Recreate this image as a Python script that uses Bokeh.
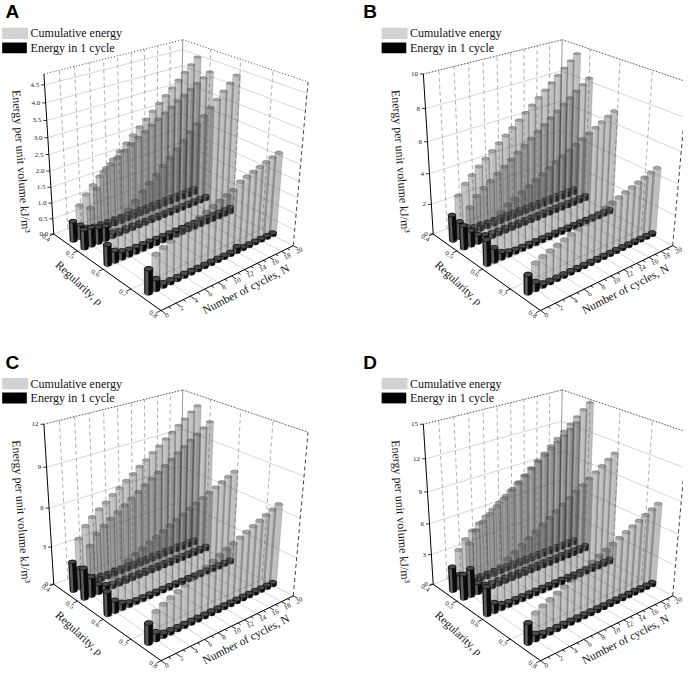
import numpy as np
from bokeh.plotting import figure
from bokeh.models import Range1d, ColumnDataSource
from bokeh.embed import file_html
from bokeh.resources import INLINE
from bokeh.core.properties import value

# ---------------- data ----------------
CYCLES = [1, 2, 3, 4, 5, 6, 7, 8, 9, 10, 11, 12, 13, 14, 15, 16, 17, 18, 19, 20]
RHO_ROWS = [0.455, 0.50, 0.59, 0.735]
RHO_TICKS = [0.4, 0.5, 0.6, 0.7, 0.8]
RHO_LABELS = ["0.4", "0.5", "0.6", "0.7", "0.8"]
N_TICKS = [0, 2, 4, 6, 8, 10, 12, 14, 16, 18, 20]
N_LABELS = ["0", "2", "4", "6", "8", "10", "12", "14", "16", "18", "20"]
RHO_MIN, RHO_MAX = 0.4, 0.8
N_MIN, N_MAX = 0, 20

A_Z_MAX = 4.8
A_Z_TICKS = [0.0, 0.5, 1.0, 1.5, 2.0, 2.5, 3.0, 3.5, 4.0, 4.5]
A_Z_LABELS = ["0.0", "0.5", "1.0", "1.5", "2.0", "2.5", "3.0", "3.5", "4.0", "4.5"]
A_CYC_R1 = [0.62, 0.42, 0.26, 0.21, 0.20, 0.19, 0.19, 0.18, 0.18, 0.18, 0.18, 0.18, 0.18, 0.18, 0.18, 0.18, 0.18, 0.18, 0.18, 0.18]
A_CUM_R1 = [0.62, 1.04, 1.30, 1.51, 1.71, 1.90, 2.09, 2.27, 2.45, 2.63, 2.81, 2.99, 3.17, 3.35, 3.53, 3.71, 3.89, 4.07, 4.25, 4.43]
A_CYC_R2 = [0.60, 0.58, 0.50, 0.45, 0.16, 0.13, 0.13, 0.13, 0.12, 0.12, 0.12, 0.12, 0.12, 0.12, 0.12, 0.12, 0.12, 0.12, 0.12, 0.12]
A_CUM_R2 = [0.60, 1.18, 1.68, 2.13, 2.29, 2.42, 2.55, 2.68, 2.80, 2.92, 3.04, 3.16, 3.28, 3.40, 3.52, 3.64, 3.76, 3.88, 4.00, 4.12]
A_CYC_R3 = [0.62, 0.35, 0.24, 0.20, 0.19, 0.19, 0.18, 0.18, 0.18, 0.18, 0.18, 0.18, 0.18, 0.18, 0.18, 0.18, 0.18, 0.18, 0.18, 0.18]
A_CUM_R3 = [0.62, 0.97, 1.21, 1.41, 1.60, 1.79, 1.97, 2.15, 2.33, 2.51, 2.69, 2.87, 3.05, 3.23, 3.41, 3.59, 3.77, 3.95, 4.13, 4.31]
A_CYC_R4 = [0.72, 0.33, 0.10, 0.09, 0.09, 0.09, 0.08, 0.08, 0.08, 0.08, 0.08, 0.08, 0.08, 0.17, 0.07, 0.07, 0.07, 0.07, 0.07, 0.07]
A_CUM_R4 = [0.72, 1.05, 1.15, 1.24, 1.33, 1.42, 1.50, 1.58, 1.66, 1.74, 1.82, 1.90, 1.98, 2.15, 2.22, 2.29, 2.36, 2.43, 2.50, 2.57]

B_Z_MAX = 10.0
B_Z_TICKS = [0, 2, 4, 6, 8, 10]
B_Z_LABELS = ["0", "2", "4", "6", "8", "10"]
B_CYC_R1 = [1.70, 1.10, 0.60, 0.40, 0.40, 0.35, 0.35, 0.35, 0.35, 0.35, 0.35, 0.35, 0.35, 0.35, 0.35, 0.35, 0.35, 0.35, 0.35, 0.35]
B_CUM_R1 = [1.70, 2.80, 3.40, 3.80, 4.20, 4.55, 4.90, 5.25, 5.60, 5.95, 6.30, 6.65, 7.00, 7.35, 7.70, 8.05, 8.40, 8.75, 9.10, 9.45]
B_CYC_R2 = [1.50, 1.00, 0.55, 0.35, 0.30, 0.30, 0.30, 0.30, 0.30, 0.30, 0.30, 0.30, 0.30, 0.30, 0.30, 0.30, 0.30, 0.30, 0.30, 0.30]
B_CUM_R2 = [1.50, 2.50, 3.05, 3.40, 3.70, 4.00, 4.30, 4.60, 4.90, 5.20, 5.50, 5.80, 6.10, 6.40, 6.70, 7.00, 7.30, 7.60, 7.90, 8.20]
B_CYC_R3 = [1.60, 0.90, 0.45, 0.30, 0.22, 0.22, 0.22, 0.22, 0.22, 0.22, 0.22, 0.22, 0.22, 0.22, 0.22, 0.22, 0.22, 0.22, 0.22, 0.22]
B_CUM_R3 = [1.60, 2.50, 2.95, 3.25, 3.47, 3.69, 3.91, 4.13, 4.35, 4.57, 4.79, 5.01, 5.23, 5.45, 5.67, 5.89, 6.11, 6.33, 6.55, 6.77]
B_CYC_R4 = [1.15, 0.50, 0.20, 0.15, 0.15, 0.15, 0.15, 0.15, 0.15, 0.15, 0.15, 0.15, 0.15, 0.15, 0.15, 0.15, 0.15, 0.15, 0.15, 0.15]
B_CUM_R4 = [1.15, 1.65, 1.85, 2.00, 2.15, 2.30, 2.45, 2.60, 2.75, 2.90, 3.05, 3.20, 3.35, 3.50, 3.65, 3.80, 3.95, 4.10, 4.25, 4.40]

C_Z_MAX = 12.0
C_Z_TICKS = [0, 3, 6, 9, 12]
C_Z_LABELS = ["0", "3", "6", "9", "12"]
C_CYC_R1 = [2.30, 1.60, 0.80, 0.50, 0.40, 0.35, 0.40, 0.35, 0.40, 0.35, 0.40, 0.35, 0.40, 0.35, 0.40, 0.35, 0.40, 0.35, 0.40, 0.35]
C_CUM_R1 = [2.30, 3.90, 4.70, 5.20, 5.60, 5.95, 6.35, 6.70, 7.10, 7.45, 7.85, 8.20, 8.60, 8.95, 9.35, 9.70, 10.10, 10.45, 10.85, 11.20]
C_CYC_R2 = [2.40, 1.50, 0.70, 0.45, 0.33, 0.33, 0.33, 0.33, 0.33, 0.33, 0.33, 0.33, 0.33, 0.33, 0.33, 0.33, 0.33, 0.33, 0.33, 0.33]
C_CUM_R2 = [2.40, 3.90, 4.60, 5.05, 5.38, 5.71, 6.04, 6.37, 6.70, 7.03, 7.36, 7.69, 8.02, 8.35, 8.68, 9.01, 9.34, 9.67, 10.00, 10.33]
C_CYC_R3 = [1.80, 0.90, 0.50, 0.30, 0.24, 0.24, 0.24, 0.24, 0.24, 0.24, 0.24, 0.24, 0.24, 0.24, 0.24, 0.24, 0.24, 0.24, 0.24, 0.24]
C_CUM_R3 = [1.80, 2.70, 3.20, 3.50, 3.74, 3.98, 4.22, 4.46, 4.70, 4.94, 5.18, 5.42, 5.66, 5.90, 6.14, 6.38, 6.62, 6.86, 7.10, 7.34]
C_CYC_R4 = [1.50, 0.60, 0.30, 0.25, 0.23, 0.23, 0.23, 0.23, 0.23, 0.23, 0.23, 0.23, 0.23, 0.23, 0.23, 0.23, 0.23, 0.23, 0.23, 0.23]
C_CUM_R4 = [1.50, 2.10, 2.40, 2.65, 2.88, 3.11, 3.34, 3.57, 3.80, 4.03, 4.26, 4.49, 4.72, 4.95, 5.18, 5.41, 5.64, 5.87, 6.10, 6.33]

D_Z_MAX = 15.0
D_Z_TICKS = [0, 3, 6, 9, 12, 15]
D_Z_LABELS = ["0", "3", "6", "9", "12", "15"]
D_CYC_R1 = [2.40, 1.40, 0.80, 0.60, 0.45, 0.45, 0.45, 0.45, 0.45, 0.45, 0.45, 0.45, 0.45, 0.45, 0.45, 0.45, 0.45, 0.45, 0.45, 0.45]
D_CUM_R1 = [2.40, 3.80, 4.60, 5.20, 5.65, 6.10, 6.55, 7.00, 7.45, 7.90, 8.35, 8.80, 9.25, 9.70, 10.15, 10.60, 11.05, 11.50, 11.95, 12.40]
D_CYC_R2 = [2.40, 2.70, 1.00, 0.60, 0.50, 0.50, 0.50, 0.50, 0.50, 0.50, 0.50, 0.50, 0.50, 0.50, 0.50, 0.50, 0.50, 0.50, 0.50, 0.50]
D_CUM_R2 = [2.40, 5.10, 6.10, 6.70, 7.20, 7.70, 8.20, 8.70, 9.20, 9.70, 10.20, 10.70, 11.20, 11.70, 12.20, 12.70, 13.20, 13.70, 14.20, 14.70]
D_CYC_R3 = [2.70, 0.90, 0.50, 0.40, 0.40, 0.40, 0.40, 0.40, 0.40, 0.40, 0.40, 0.40, 0.40, 0.40, 0.40, 0.40, 0.40, 0.40, 0.40, 0.40]
D_CUM_R3 = [2.70, 3.60, 4.10, 4.50, 4.90, 5.30, 5.70, 6.10, 6.50, 6.90, 7.30, 7.70, 8.10, 8.50, 8.90, 9.30, 9.70, 10.10, 10.50, 10.90]
D_CYC_R4 = [1.90, 0.60, 0.35, 0.30, 0.30, 0.30, 0.30, 0.30, 0.30, 0.30, 0.30, 0.30, 0.30, 0.30, 0.30, 0.30, 0.30, 0.30, 0.30, 0.30]
D_CUM_R4 = [1.90, 2.50, 2.85, 3.15, 3.45, 3.75, 4.05, 4.35, 4.65, 4.95, 5.25, 5.55, 5.85, 6.15, 6.45, 6.75, 7.05, 7.35, 7.65, 7.95]

LEGEND_LABELS = ["Cumulative energy", "Energy in 1 cycle"]
Z_TITLE = "Energy per unit volume kJ/m\u00b3"
RHO_TITLE = "Regularity, \u03c1"
N_TITLE = "Number of cycles, N"

PANELS = [
    ("A", A_Z_MAX, A_Z_TICKS, A_Z_LABELS, [A_CYC_R1, A_CYC_R2, A_CYC_R3, A_CYC_R4], [A_CUM_R1, A_CUM_R2, A_CUM_R3, A_CUM_R4]),
    ("B", B_Z_MAX, B_Z_TICKS, B_Z_LABELS, [B_CYC_R1, B_CYC_R2, B_CYC_R3, B_CYC_R4], [B_CUM_R1, B_CUM_R2, B_CUM_R3, B_CUM_R4]),
    ("C", C_Z_MAX, C_Z_TICKS, C_Z_LABELS, [C_CYC_R1, C_CYC_R2, C_CYC_R3, C_CYC_R4], [C_CUM_R1, C_CUM_R2, C_CUM_R3, C_CUM_R4]),
    ("D", D_Z_MAX, D_Z_TICKS, D_Z_LABELS, [D_CYC_R1, D_CYC_R2, D_CYC_R3, D_CYC_R4], [D_CUM_R1, D_CUM_R2, D_CUM_R3, D_CUM_R4]),
]

# ---------------- layout (view) ----------------
W, H = 683, 671
PANEL_OFF = {"A": (0, 0), "B": (385, 0), "C": (0, 357), "D": (385, 357)}
LETTER_POS = {"A": (5, 5), "B": (368, 5), "C": (5, 362), "D": (368, 362)}
# box corners of the 3-D frame (normalised rho, N, z) and where they appear
BOX_WORLD = np.array([[0, 0, 0], [1, 0, 0], [1, 1, 0], [0, 0, 1], [0, 1, 1], [1, 1, 1]], float)
BOX_SCREEN = np.array([[54, 242], [163, 320], [297, 254], [44, 79], [185, 44], [312, 87]], float)
RAD = 0.022

MU = BOX_SCREEN.mean(0)
SC = BOX_SCREEN.std()
nrm = (BOX_SCREEN - MU) / SC
rows = []
for (x, y, z), (a, b) in zip(BOX_WORLD, nrm):
    X = [x, y, z, 1.0]
    rows.append(X + [0, 0, 0, 0] + [-a * t for t in X])
    rows.append([0, 0, 0, 0] + X + [-b * t for t in X])
_, _, Vt = np.linalg.svd(np.array(rows))
PM = Vt[-1].reshape(3, 4)
_, _, Vc = np.linalg.svd(PM)
CAM = Vc[-1][:3] / Vc[-1][3]


def proj(u, v, w, off):
    u, v, w = np.broadcast_arrays(np.asarray(u, float), np.asarray(v, float), np.asarray(w, float))
    X = np.stack([u.ravel(), v.ravel(), w.ravel(), np.ones(u.size)])
    q = PM @ X
    x = q[0] / q[2] * SC + MU[0] + off[0]
    y = q[1] / q[2] * SC + MU[1] + off[1]
    return x.reshape(u.shape), y.reshape(u.shape)


def hull(xs, ys):
    pts = sorted(set(zip(np.round(xs, 3).tolist(), np.round(ys, 3).tolist())))
    if len(pts) < 3:
        return pts

    def cross(o, a, b):
        return (a[0] - o[0]) * (b[1] - o[1]) - (a[1] - o[1]) * (b[0] - o[0])
    lo = []
    for pt in pts:
        while len(lo) >= 2 and cross(lo[-2], lo[-1], pt) <= 0:
            lo.pop()
        lo.append(pt)
    up = []
    for pt in reversed(pts):
        while len(up) >= 2 and cross(up[-2], up[-1], pt) <= 0:
            up.pop()
        up.append(pt)
    return lo[:-1] + up[:-1]


TH = np.linspace(0, 2 * np.pi, 28, endpoint=False)


def cylinder(uc, vc, h, off, kind):
    cu = uc + RAD * np.cos(TH)
    cv = vc + RAD * np.sin(TH)
    xb, yb = proj(cu, cv, 0.0, off)
    xt, yt = proj(cu, cv, h, off)
    hp = hull(np.r_[xb, xt], np.r_[yb, yt])
    out = []
    if kind == "gray":
        out.append(([q[0] for q in hp], [q[1] for q in hp], "#3a3a3a", 0.33, "#4a4a4a", 0.45, 0.4))
    else:
        out.append(([q[0] for q in hp], [q[1] for q in hp], "#0a0a0a", 1.0, "#000000", 1.0, 0.3))
    tf = np.arctan2(CAM[1] - vc, CAM[0] - uc)
    x1, _ = proj(uc + RAD * np.cos(tf + np.pi / 2), vc + RAD * np.sin(tf + np.pi / 2), 0.0, off)
    x2, _ = proj(uc + RAD * np.cos(tf - np.pi / 2), vc + RAD * np.sin(tf - np.pi / 2), 0.0, off)
    sg = 1.0 if float(x1) < float(x2) else -1.0
    ts = tf + sg * np.linspace(0.05, 0.55, 8) * (np.pi / 2)
    hu = uc + RAD * np.cos(ts)
    hv = vc + RAD * np.sin(ts)
    hx0, hy0 = proj(hu, hv, 0.0, off)
    hx1, hy1 = proj(hu, hv, h, off)
    hx = list(hx0) + list(hx1[::-1])
    hy = list(hy0) + list(hy1[::-1])
    if kind == "gray":
        out.append((hx, hy, "#ffffff", 0.14, None, 0.0, 0.0))
        out.append((list(xt), list(yt), "#6a6a6a", 0.3, "#404040", 0.55, 0.4))
    else:
        out.append((hx, hy, "#6a6a6a", 0.85, None, 0.0, 0.0))
        out.append((list(xt), list(yt), "#4a4a4a", 1.0, "#000000", 1.0, 0.5))
    return out


p = figure(width=W, height=H, output_backend="svg", toolbar_location=None,
           x_range=Range1d(0, 693), y_range=Range1d(688, 4), min_border=0,
           x_axis_location=None, y_axis_location=None)
p.grid.visible = False
p.outline_line_color = None
p.background_fill_color = "white"

LINE_STYLES = {
    "grid": dict(line_color="#c4c4c4", line_width=0.7),
    "wdash": dict(line_color="#8e8e8e", line_width=0.7, line_dash="4 3"),
    "dot": dict(line_color="#444444", line_width=1.0, line_dash="1 2"),
    "back": dict(line_color="#9a9a9a", line_width=1.0),
    "edash": dict(line_color="#444444", line_width=1.0, line_dash="4 3"),
    "axis": dict(line_color="#000000", line_width=1.0),
    "tick": dict(line_color="#000000", line_width=0.8),
}
lines = {k: ([], []) for k in LINE_STYLES}


def seg(style, a, b, off):
    xa, ya = proj(*a, off)
    xb, yb = proj(*b, off)
    lines[style][0].append([float(xa), float(xb)])
    lines[style][1].append([float(ya), float(yb)])


texts = []


def txt(x, y, s, size, align="center", base="middle", angle=0.0, font="Liberation Serif", style="normal", color="#222222"):
    texts.append(dict(x=float(x), y=float(y), text=s, angle=angle, size=size, align=align, base=base, font=font, style=style, color=color))


bars = []
for name, zmax, zt, zl, cyc_rows, cum_rows in PANELS:
    off = PANEL_OFF[name]
    us = [(r - RHO_MIN) / (RHO_MAX - RHO_MIN) for r in RHO_TICKS]
    vs = [(n - N_MIN) / (N_MAX - N_MIN) for n in N_TICKS]
    ws = [t / zmax for t in zt]
    for v in vs:
        seg("grid", (0, v, 0), (1, v, 0), off)
    for u in us:
        seg("grid", (u, 0, 0), (u, 1, 0), off)
    for w in ws[1:]:
        seg("grid", (0, 0, w), (0, 1, w), off)
        seg("grid", (0, 1, w), (1, 1, w), off)
    for v in vs[1:-1]:
        seg("wdash", (0, v, 0), (0, v, 1), off)
    for u in us[1:-1]:
        seg("wdash", (u, 1, 0), (u, 1, 1), off)
    seg("dot", (0, 0, 1), (0, 1, 1), off)
    seg("dot", (0, 1, 1), (1, 1, 1), off)
    seg("back", (0, 1, 0), (0, 1, 1), off)
    seg("edash", (1, 1, 0), (1, 1, 1), off)
    seg("axis", (0, 0, 0), (0, 0, 1), off)
    seg("axis", (0, 0, 0), (1, 0, 0), off)
    seg("axis", (1, 0, 0), (1, 1, 0), off)
    for w, lab in zip(ws, zl):
        x, y = proj(0, 0, w, off)
        lines["tick"][0].append([float(x) - 3.5, float(x)])
        lines["tick"][1].append([float(y), float(y)])
        txt(float(x) - 5.5, y, lab, "7px", align="right")
    for u, lab in zip(us, RHO_LABELS):
        seg("tick", (u, 0, 0), (u, -0.03, 0), off)
        x, y = proj(u, 0, 0, off)
        txt(float(x) - 8, float(y) + 4, lab, "7px", angle=-0.6)
    for v, lab in zip(vs, N_LABELS):
        seg("tick", (1, v, 0), (1.035, v, 0), off)
        x, y = proj(1, v, 0, off)
        txt(float(x) + 6, float(y) + 5, lab, "7px", angle=0.45)
    for n in range(N_MIN + 1, N_MAX, 2):
        v = (n - N_MIN) / (N_MAX - N_MIN)
        seg("tick", (1, v, 0), (1.02, v, 0), off)
    txt(off[0] + 21, off[1] + 168, Z_TITLE, "12px", angle=-1.50, color="#111111")
    txt(off[0] + 80, off[1] + 292, RHO_TITLE, "11.5px", angle=-0.745, color="#111111")
    txt(off[0] + 249, off[1] + 298, N_TITLE, "11.5px", angle=0.47, color="#111111")
    p.quad(left=[off[0] + 1.7], right=[off[0] + 28], top=[off[1] + 31.7], bottom=[off[1] + 43.3],
           fill_color="#d2d2d2", line_color=None)
    p.quad(left=[off[0] + 1.7], right=[off[0] + 26.7], top=[off[1] + 46.7], bottom=[off[1] + 57.7],
           fill_color="#000000", line_color=None)
    txt(off[0] + 30.5, off[1] + 37.5, LEGEND_LABELS[0], "12px", align="left", color="#111111")
    txt(off[0] + 30.5, off[1] + 52.3, LEGEND_LABELS[1], "12px", align="left", color="#111111")
    lx, ly = LETTER_POS[name]
    txt(lx, ly, name, "19px", align="left", base="top", font="Liberation Sans", style="bold", color="#000000")
    for rho, cyc, cum in zip(RHO_ROWS, cyc_rows, cum_rows):
        u = (rho - RHO_MIN) / (RHO_MAX - RHO_MIN)
        for n, e1, ec in zip(CYCLES, cyc, cum):
            v = (n - N_MIN) / (N_MAX - N_MIN)
            _, yk = proj(u, v, 0, off)
            key = float(yk)
            bars.append((key, 0, cylinder(u, v, ec / zmax, off, "gray")))
            bars.append((key, 1, cylinder(u, v, e1 / zmax, off, "black")))

for k, st in LINE_STYLES.items():
    xs, ys = lines[k]
    if xs:
        p.multi_line(xs=xs, ys=ys, **st)

bars.sort(key=lambda t: (t[0], t[1]))
cols = dict(xs=[], ys=[], fc=[], fa=[], lc=[], la=[], lw=[])
for _, _, polys in bars:
    for xs, ys, fc, fa, lc, la, lw in polys:
        cols["xs"].append(xs)
        cols["ys"].append(ys)
        cols["fc"].append(fc)
        cols["fa"].append(fa)
        cols["lc"].append(lc if lc else "#000000")
        cols["la"].append(la)
        cols["lw"].append(lw)
p.patches(xs="xs", ys="ys", fill_color="fc", fill_alpha="fa", line_color="lc", line_alpha="la",
          line_width="lw", source=ColumnDataSource(cols))

groups = {}
for t in texts:
    key = (t["size"], t["align"], t["base"], t["font"], t["style"], t["color"])
    groups.setdefault(key, []).append(t)
for (size, align, base, font, style, color), items in groups.items():
    src = ColumnDataSource(dict(x=[i["x"] for i in items], y=[i["y"] for i in items],
                                text=[i["text"] for i in items], angle=[i["angle"] for i in items]))
    p.text(x="x", y="y", text="text", angle="angle", source=src, text_font=value(font),
           text_font_size=size, text_align=align, text_baseline=base, text_font_style=style,
           text_color=color)

open("out.html", "w").write(file_html(p, INLINE))
